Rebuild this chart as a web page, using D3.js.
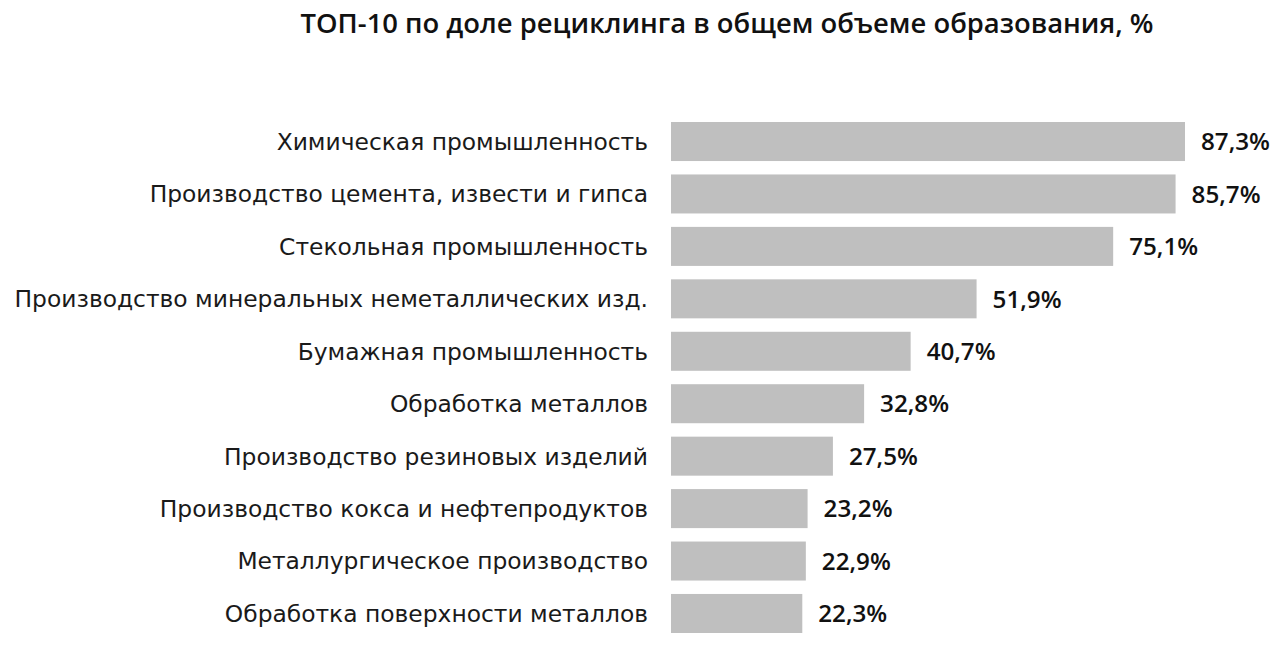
<!DOCTYPE html>
<html><head><meta charset="utf-8">
<script src="https://cdn.jsdelivr.net/npm/d3@7"></script>
<style>body{margin:0;background:#fff;} text{font-family:"DejaVu Sans",sans-serif;}</style>
</head><body>
<svg id="c" width="1286" height="648"></svg>
<script>
const categories = [
  "Химическая промышленность",
  "Производство цемента, извести и гипса",
  "Стекольная промышленность",
  "Производство минеральных неметаллических изд.",
  "Бумажная промышленность",
  "Обработка металлов",
  "Производство резиновых изделий",
  "Производство кокса и нефтепродуктов",
  "Металлургическое производство",
  "Обработка поверхности металлов"
];
const values = [87.3, 85.7, 75.1, 51.9, 40.7, 32.8, 27.5, 23.2, 22.9, 22.3];
const valueLabels = ["87,3%", "85,7%", "75,1%", "51,9%", "40,7%", "32,8%", "27,5%", "23,2%", "22,9%", "22,3%"];
const title = "ТОП-10 по доле рециклинга в общем объеме образования, %";

const svg = d3.select("#c");
const x = d3.scaleLinear().domain([0, 87.3]).range([671, 1185]);
const y = d3.scaleBand().domain(categories).range([115.3, 639.7]).paddingInner(0.256).paddingOuter(0.128);

function fit(sel, target, base) {
  const w = d3.max(sel.nodes(), n => n.getComputedTextLength());
  sel.attr("font-size", base * target / w);
}

const t = svg.append("text")
  .attr("x", 727).attr("y", 33)
  .attr("text-anchor", "middle")
  .attr("font-size", 22).attr("font-weight", 600).attr("fill", "#111")
  .style("font-family", "'Open Sans', sans-serif")
  .text(title);
fit(t, 853, 22);

const rows = svg.selectAll("g.row").data(categories).join("g").attr("class", "row");

rows.append("rect")
  .attr("x", x(0))
  .attr("y", d => y(d))
  .attr("width", (d, i) => x(values[i]) - x(0))
  .attr("height", y.bandwidth())
  .attr("fill", "#bfbfbf");

const labels = rows.append("text")
  .attr("x", 648)
  .attr("y", d => y(d) + y.bandwidth() / 2)
  .attr("dy", "0.36em")
  .attr("text-anchor", "end")
  .attr("font-size", 22).attr("fill", "#1a1a1a")
  .text(d => d);
fit(labels, 634, 22);

const vals = rows.append("text")
  .attr("x", (d, i) => x(values[i]) + 16)
  .attr("y", d => y(d) + y.bandwidth() / 2)
  .attr("dy", "0.36em")
  .attr("font-size", 22).attr("font-weight", 600).attr("fill", "#111")
  .style("font-family", "'Open Sans', sans-serif")
  .text((d, i) => valueLabels[i]);
const v0 = vals.nodes()[0].getComputedTextLength();
vals.attr("font-size", 22 * 69 / v0);
</script>
</body></html>
